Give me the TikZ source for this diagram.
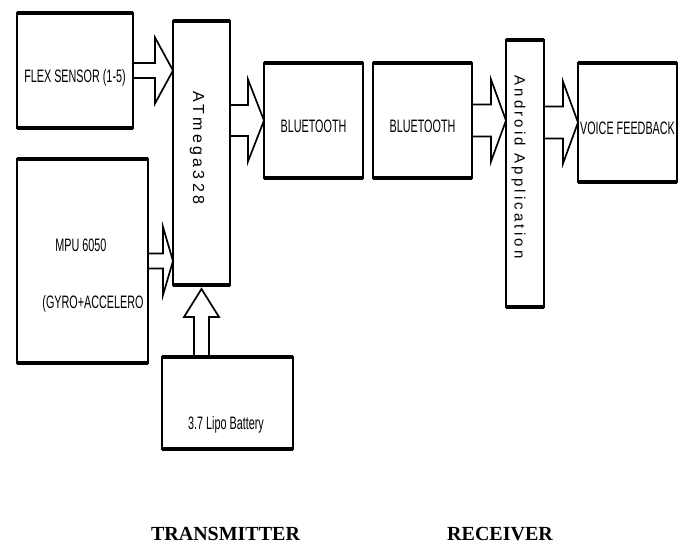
\documentclass[tikz,border=0pt]{standalone}
\usepackage{fontspec}
\setmainfont{Liberation Sans}
\newfontfamily\spacedfont[LetterSpace=21]{Liberation Sans}
\newfontfamily\capfont{Liberation Serif}
\usepackage{tikz}
\usetikzlibrary{calc}
% narrow box text
\newcommand{\nar}[1]{\scalebox{0.6}[1]{#1}}
% hollow block arrow: start, tip, shaft half width, head half width, head length
\newcommand{\blockarrow}[5]{%
  \coordinate (hb) at ($(#2)!#5!(#1)$);
  \draw[barrow] ($(#1)!#3!90:(#2)$) -- ($(hb)!#3!90:(#2)$) -- ($(hb)!#4!90:(#2)$) -- (#2)
    -- ($(hb)!#4!-90:(#2)$) -- ($(hb)!#3!-90:(#2)$) -- ($(#1)!#3!-90:(#2)$);}
\tikzset{
  box/.style={draw,line width=1.6pt,outer sep=0pt,inner sep=0pt,fill=white,
    text height=24pt,text depth=0pt,font=\fontsize{18}{20}\selectfont},
  boxtxt/.style={inner sep=0pt,font=\fontsize{18}{20}\selectfont},
  barrow/.style={line width=1.7pt,line join=miter},
  sidetxt/.style={font=\capfont\bfseries\fontsize{20}{24}\selectfont,anchor=base}
}
\begin{document}
\begin{tikzpicture}[x=1pt,y=1pt]
  \useasboundingbox (0,0) rectangle (684,545);
  % transmitter
  \node[box,minimum width=116pt,minimum height=115pt] (flex) at (75,474.5) {\nar{FLEX SENSOR (1-5)}};
  \node[box,minimum width=57pt,minimum height=264pt] (atm) at (201.5,392) {};
  \node[box,minimum width=131pt,minimum height=204pt] (mpu) at (82.5,284) {};
  \node[box,minimum width=131pt,minimum height=92pt] (bat) at (227.5,142) {};
  \node[box,minimum width=99pt,minimum height=115pt] (bt1) at (313.5,424.5) {\nar{BLUETOOTH}};
  % receiver
  \node[box,minimum width=99pt,minimum height=115pt] (bt2) at (422.5,424.5) {\nar{BLUETOOTH}};
  \node[box,minimum width=38pt,minimum height=267pt] (andr) at (525,371.5) {};
  \node[box,minimum width=99pt,minimum height=119pt] (voice) at (627.5,422.5) {\nar{VOICE FEEDBACK}};
  \node[boxtxt] (mpua) at (81,300) {\nar{MPU 6050}};
  \node[boxtxt] (mpub) at (93,241) {\nar{(GYRO+ACCELERO}};
  \node[boxtxt] (battxt) at (226,120) {\nar{3.7 Lipo Battery}};
  \node[inner sep=0pt] (atmtxt) at (197,397) {\rotatebox{-90}{\spacedfont\fontsize{16}{18}\selectfont ATmega328}};
  \node[inner sep=0pt] (andrtxt) at (518.5,378) {\rotatebox{-90}{\spacedfont\fontsize{15}{18}\selectfont Android Application}};
  % heavy top and bottom edges
  \foreach \b in {flex,atm,mpu,bat,bt1,bt2,andr,voice}
    \draw[line width=3.2pt] (\b.north west) -- (\b.north east) (\b.south west) -- (\b.south east);
  % block arrows
  \coordinate (battip) at ($(atm.south)+(0,-4)$);
  \blockarrow{flex.east}{flex -| atm.west}{7.5pt}{33pt}{18pt}
  \blockarrow{mpu.east}{mpu -| atm.west}{7.5pt}{34pt}{10pt}
  \blockarrow{bat.north -| atm}{battip}{7.5pt}{17.5pt}{28pt}
  \blockarrow{bt1 -| atm.east}{bt1.west}{15.5pt}{41pt}{16pt}
  \blockarrow{bt2.east}{bt2 -| andr.west}{16pt}{41pt}{15pt}
  \blockarrow{voice -| andr.east}{voice.west}{16pt}{41pt}{15pt}
  \node[sidetxt] (tx) at (225.5,5) {TRANSMITTER};
  \node[sidetxt] (rx) at (500,5) {RECEIVER};
\end{tikzpicture}
\end{document}
